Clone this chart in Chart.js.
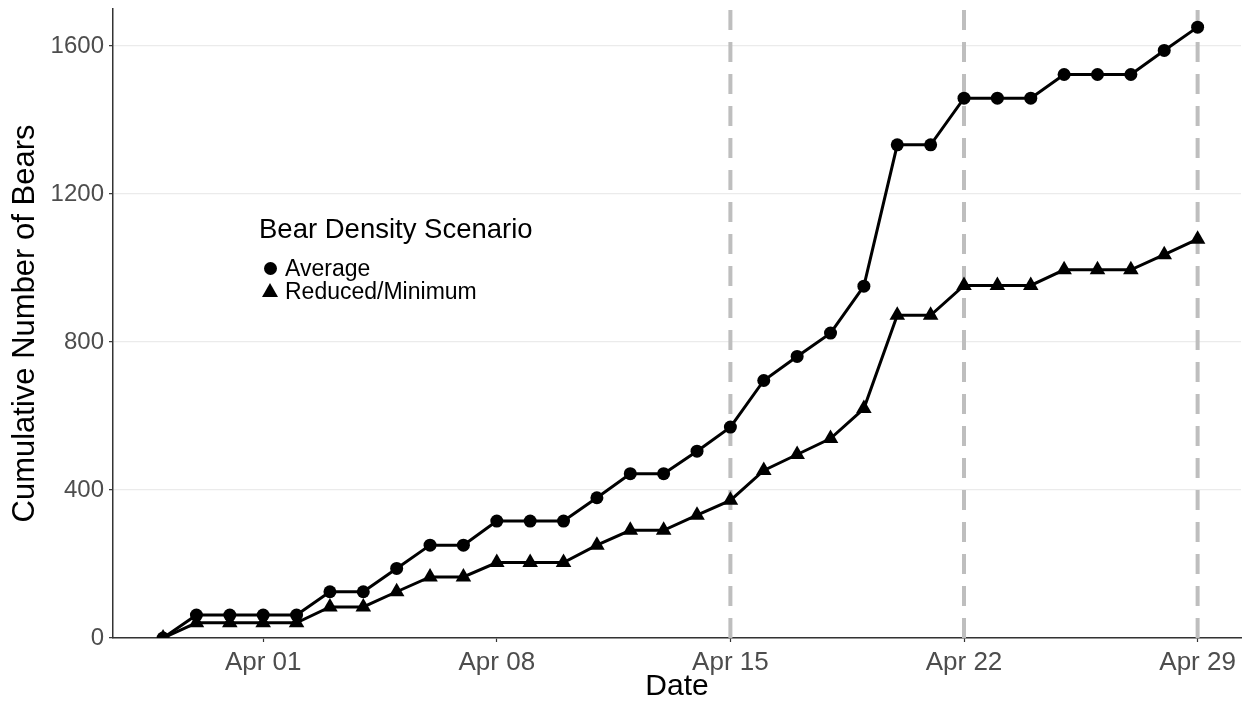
<!DOCTYPE html>
<html><head><meta charset="utf-8">
<script src="https://cdn.jsdelivr.net/npm/chart.js@4"></script>
<style>
html,body{margin:0;padding:0;background:#fff;}
#wrap{position:relative;width:1250px;height:702px;overflow:hidden;}
canvas{display:block;}
#legend{position:absolute;left:259px;top:212px;font-family:"Liberation Sans",Arial,sans-serif;color:#000;}
#legend .title{font-size:27.5px;line-height:34px;white-space:nowrap;}
#legend .item{font-size:23px;line-height:23px;white-space:nowrap;display:flex;align-items:center;}
#legend .sym{display:inline-block;width:26px;position:relative;height:23px;}
#legend .dot{position:absolute;left:5px;top:5px;width:13px;height:13px;border-radius:50%;background:#000;}
#legend .tri{position:absolute;left:3px;top:3px;width:0;height:0;border-left:8px solid transparent;border-right:8px solid transparent;border-bottom:14px solid #000;}
</style></head>
<body><div id="wrap"><canvas id="c" width="1250" height="702"></canvas>
<div id="legend">
  <div class="title">Bear Density Scenario</div>
  <div class="item" style="margin-top:11px"><span class="sym"><span class="dot"></span></span><span>Average</span></div>
  <div class="item"><span class="sym"><span class="tri"></span></span><span>Reduced/Minimum</span></div>
</div>
</div>
<script>
const dates = ['Mar 29','Mar 30','Mar 31','Apr 01','Apr 02','Apr 03','Apr 04','Apr 05','Apr 06','Apr 07','Apr 08','Apr 09','Apr 10','Apr 11','Apr 12','Apr 13','Apr 14','Apr 15','Apr 16','Apr 17','Apr 18','Apr 19','Apr 20','Apr 21','Apr 22','Apr 23','Apr 24','Apr 25','Apr 26','Apr 27','Apr 28','Apr 29'];
const averageBears = [0,62,62,62,62,125,125,188,251,251,316,316,316,379,444,444,505,570,696,761,824,951,1333,1333,1459,1459,1459,1523,1523,1523,1588,1651];
const reducedBears = [0,41,41,41,41,84,84,125,165,165,204,204,204,251,291,291,332,372,453,496,539,620,872,872,953,953,953,995,995,995,1036,1078];
const tickLabels = ['Apr 01','Apr 08','Apr 15','Apr 22','Apr 29'];
const markerDates = ['Apr 15','Apr 22','Apr 29'];
const yTicks = [0,400,800,1200,1600];
const yMax = 1700;

const dayOf = d => dates.indexOf(d);
const tickDays = tickLabels.map(dayOf);

const fontFam = '"Liberation Sans", Arial, sans-serif';

const vlineSets = markerDates.map(d => ({
  data: [{x: dayOf(d), y: 0}, {x: dayOf(d), y: yMax}],
  borderColor: '#bebebe', borderWidth: 4, borderDash: [20, 12],
  pointRadius: 0, order: 10, clip: false
}));

const noPad = s => { s.paddingTop = 0; s.paddingBottom = 0; s.paddingLeft = 0; s.paddingRight = 0; };

new Chart(document.getElementById('c'), {
  type: 'line',
  data: {
    datasets: [
      { label: 'Average', data: averageBears.map((v,i)=>({x:i,y:v})),
        borderColor:'#000', backgroundColor:'#000', borderWidth:3,
        pointStyle:'circle', pointRadius:6.5, pointBorderWidth:0, order:1 },
      { label: 'Reduced/Minimum', data: reducedBears.map((v,i)=>({x:i,y:v})),
        borderColor:'#000', backgroundColor:'#000', borderWidth:3,
        pointStyle:'triangle', pointRadius:9, pointBorderWidth:0, order:2 },
      ...vlineSets
    ]
  },
  options: {
    responsive:false, animation:false,
    layout:{padding:{left:0,right:2,top:8,bottom:0}},
    plugins:{legend:{display:false}, tooltip:{enabled:false}},
    elements:{line:{tension:0}},
    scales:{
      x:{ type:'linear', min:-1.5, max:32.3,
        afterBuildTicks: s => { s.ticks = tickDays.map(v=>({value:v})); },
        afterFit: s => { s.height = 64; noPad(s); },
        ticks:{ callback: v => tickLabels[tickDays.indexOf(v)], color:'#4d4d4d',
          font:{family:fontFam, size:26}, padding:5, maxRotation:0, autoSkip:false },
        grid:{ drawOnChartArea:false, tickLength:4, tickColor:'#333', tickWidth:1.2 },
        border:{ display:true, color:'#333', width:1.5 },
        title:{ display:true, text:'Date', color:'#000', font:{family:fontFam, size:30, lineHeight:1}, padding:{top:0,bottom:0} }
      },
      y:{ type:'linear', min:0, max:yMax,
        afterBuildTicks: s => { s.ticks = yTicks.map(v=>({value:v})); },
        afterFit: s => { s.width = 113; noPad(s); },
        ticks:{ callback: v => String(v), color:'#4d4d4d', font:{family:fontFam, size:24}, padding:5 },
        grid:{ color:'#ebebeb', lineWidth:1.3, tickLength:4, tickColor:'#333', tickWidth:1.2 },
        border:{ display:true, color:'#333', width:1.5 },
        title:{ display:true, text:'Cumulative Number of Bears', color:'#000', font:{family:fontFam, size:31, lineHeight:1}, padding:{top:10,bottom:0} }
      }
    }
  }
});
</script>
</body></html>
